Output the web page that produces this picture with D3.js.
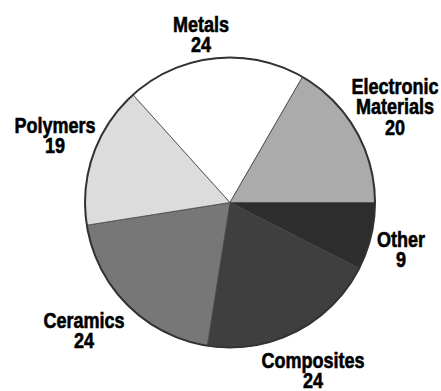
<!DOCTYPE html>
<html>
<head>
<meta charset="utf-8">
<script src="https://cdn.jsdelivr.net/npm/d3@7"></script>
<style>
  html, body { margin: 0; padding: 0; background: #fff; }
  svg { display: block; }
  .lbl { font-family: "Liberation Sans", Arial, sans-serif; font-weight: bold; font-size: 22px; fill: #000; stroke: #000; stroke-width: 0.6px; }
</style>
</head>
<body>
<svg id="chart" width="441" height="391"></svg>
<script>
// Data (drawn clockwise starting at 3 o'clock)
const categories = ["Other", "Composites", "Ceramics", "Polymers", "Metals", "Electronic Materials"];
const values = [9, 24, 24, 19, 24, 20];
const labelLines = [["Other"], ["Composites"], ["Ceramics"], ["Polymers"], ["Metals"], ["Electronic", "Materials"]];
const fills = ["#2d2d2d", "#3f3f3f", "#777777", "#dcdcdc", "#ffffff", "#ababab"];

// Layout
const cx = 230, cy = 202.5, R = 145;
const labelAnchor = {
  "Other": [401, 247],
  "Composites": [313, 368],
  "Ceramics": [84, 328],
  "Polymers": [55, 133],
  "Metals": [201, 32],
  "Electronic Materials": [395, 94]
};
const lineH = 20.3;
const narrow = 0.82;

const svg = d3.select("#chart");
const g = svg.append("g").attr("transform", `translate(${cx},${cy})`);

const pie = d3.pie().sort(null).value(d => d.v)
  .startAngle(Math.PI / 2).endAngle(Math.PI / 2 + 2 * Math.PI);
const data = categories.map((c, i) => ({ c, v: values[i], lines: labelLines[i], fill: fills[i] }));
const arcs = pie(data);
const arc = d3.arc().innerRadius(0).outerRadius(R);

g.selectAll("path.slice").data(arcs).join("path")
  .attr("class", "slice")
  .attr("d", arc)
  .attr("fill", d => d.data.fill)
  .attr("stroke", "#444")
  .attr("stroke-width", 0.8)
  .attr("stroke-linejoin", "round");

g.append("circle").attr("r", R).attr("fill", "none")
  .attr("stroke", "#333").attr("stroke-width", 2);

// Labels (condensed by horizontal scaling)
const lg = svg.append("g");
arcs.forEach(a => {
  const [x, y] = labelAnchor[a.data.c];
  const t = lg.append("text").attr("class", "lbl").attr("text-anchor", "middle")
    .attr("transform", `translate(${x},${y}) scale(${narrow},1)`);
  const lines = a.data.lines.concat([String(a.data.v)]);
  lines.forEach((ln, i) => {
    t.append("tspan").attr("x", 0).attr("y", i * lineH).text(ln);
  });
});
</script>
</body>
</html>
